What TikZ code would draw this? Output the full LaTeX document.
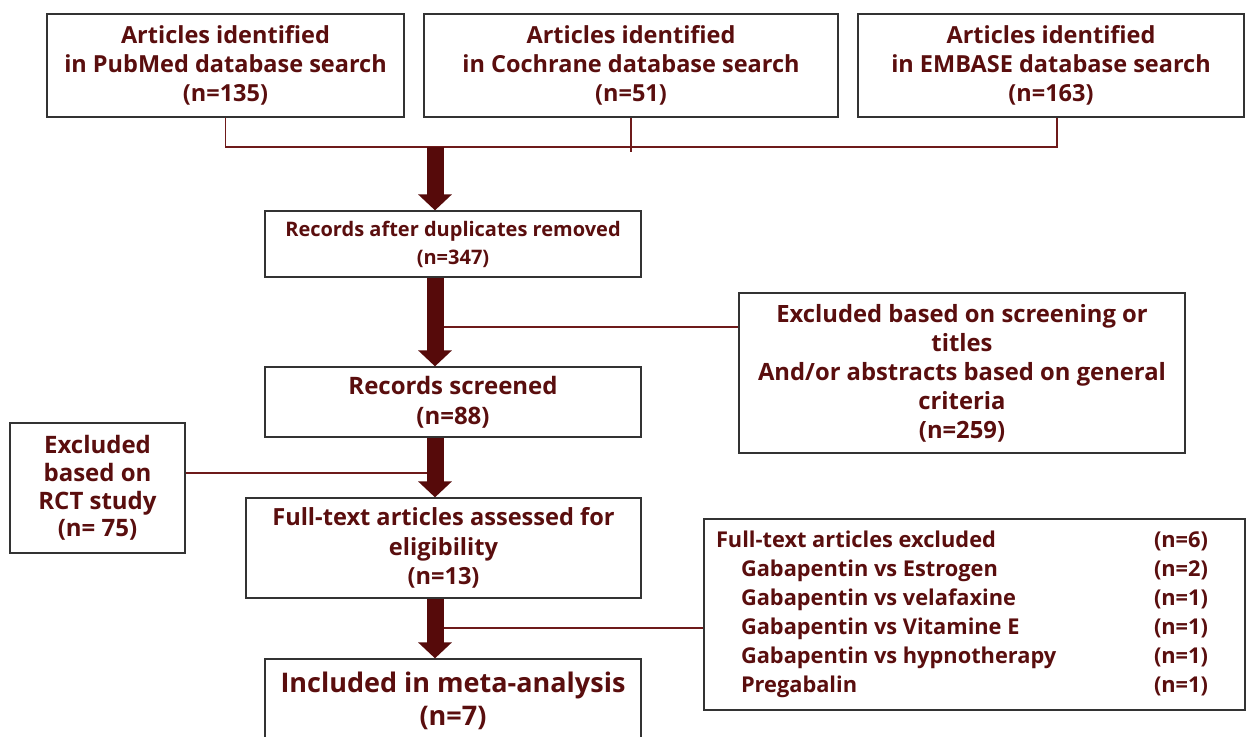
\documentclass[tikz,border=0pt]{standalone}
\usepackage{fontspec}
\setmainfont{Open Sans}
\usetikzlibrary{arrows.meta,calc}
\definecolor{txtred}{HTML}{5A0E0E}
\definecolor{arrred}{HTML}{560A0A}
\definecolor{linered}{HTML}{6E1A1A}
\definecolor{boxgray}{HTML}{333333}
\begin{document}
\begin{tikzpicture}[x=1pt,y=-1pt,
  box/.style={draw=boxgray,line width=1.3pt,inner sep=0pt,align=center,text=txtred,
    font=\bfseries\fontsize{23.5}{29}\selectfont},
  conn/.style={draw=linered,line width=1.8pt},
  bigarrow/.style={draw=arrred,line width=17pt,-{Triangle[width=33pt,length=16pt]},fill=arrred}]
\useasboundingbox[fill=white] (0,0) rectangle (1247,736);

% top row
\node[box,minimum width=357,minimum height=103] (pub) at (225.5,65.5)
  {Articles identified\\in PubMed database search\\(n=135)};
\node[box,minimum width=414,minimum height=103] (coch) at (631,65.5)
  {Articles identified\\in Cochrane database search\\(n=51)};
\node[box,minimum width=386,minimum height=103] (emb) at (1051,65.5)
  {Articles identified\\in EMBASE database search\\(n=163)};

% main column
\node[box,minimum width=376,minimum height=66,font=\bfseries\fontsize{20}{28}\selectfont] (dup) at (453,244)
  {Records after duplicates removed\\(n=347)};
\node[box,minimum width=376,minimum height=70,font=\bfseries\fontsize{24}{30}\selectfont] (rs) at (453,402)
  {Records screened\\(n=88)};
\node[box,minimum width=395,minimum height=100,font=\bfseries\fontsize{23.6}{29.5}\selectfont] (ft) at (443.5,548)
  {Full-text articles assessed for\\eligibility\\(n=13)};
\node[box,minimum width=376,minimum height=84,font=\bfseries\fontsize{27}{33}\selectfont] (inc) at (453,701)
  {Included in meta-analysis\\(n=7)};

% side boxes
\node[box,minimum width=446,minimum height=160,font=\bfseries\fontsize{23.8}{29}\selectfont] (scr) at (962,373)
  {Excluded based on screening or\\titles\\And/or abstracts based on general\\criteria\\(n=259)};
\node[box,minimum width=175,minimum height=130,font=\bfseries\fontsize{24}{27.7}\selectfont] (rct) at (97.5,488)
  {Excluded\\based on\\RCT study\\(n= 75)};
\node[box,minimum width=541,minimum height=191,font=\bfseries\fontsize{21.8}{29}\selectfont] (lst) at (974.5,614.5)
  {\begin{tabular}{@{}p{438pt}@{}p{79pt}@{}}
   Full-text articles excluded & (n=6)\\
   \hspace*{25pt}Gabapentin vs Estrogen & (n=2)\\
   \hspace*{25pt}Gabapentin vs velafaxine & (n=1)\\
   \hspace*{25pt}Gabapentin vs Vitamine E & (n=1)\\
   \hspace*{25pt}Gabapentin vs hypnotherapy & (n=1)\\
   \hspace*{25pt}Pregabalin & (n=1)
   \end{tabular}};

% connectors
\coordinate (jl) at (225.5,147);
\coordinate (jr) at (1057,147);
\coordinate (cj) at (631,152);
\draw[conn] (pub.south) -- (jl) -- (jr) -- (jr |- emb.south);
\draw[conn] (coch.south) -- (cj);

\coordinate (ax) at (435,147);
\coordinate (l1) at (441,327);
\coordinate (l2) at (427,473);
\coordinate (l3) at (444,628);
\draw[conn] (l1) -- (l1 -| scr.west);
\draw[conn] (rct.east |- l2) -- (l2);
\draw[conn] (l3) -- (l3 -| lst.west);

% block arrows
\draw[bigarrow] (ax) -- (dup.north -| ax);
\draw[bigarrow] (dup.south -| ax) -- (rs.north -| ax);
\draw[bigarrow] (rs.south -| ax) -- (ft.north -| ax);
\draw[bigarrow] (ft.south -| ax) -- (inc.north -| ax);
\end{tikzpicture}
\end{document}
